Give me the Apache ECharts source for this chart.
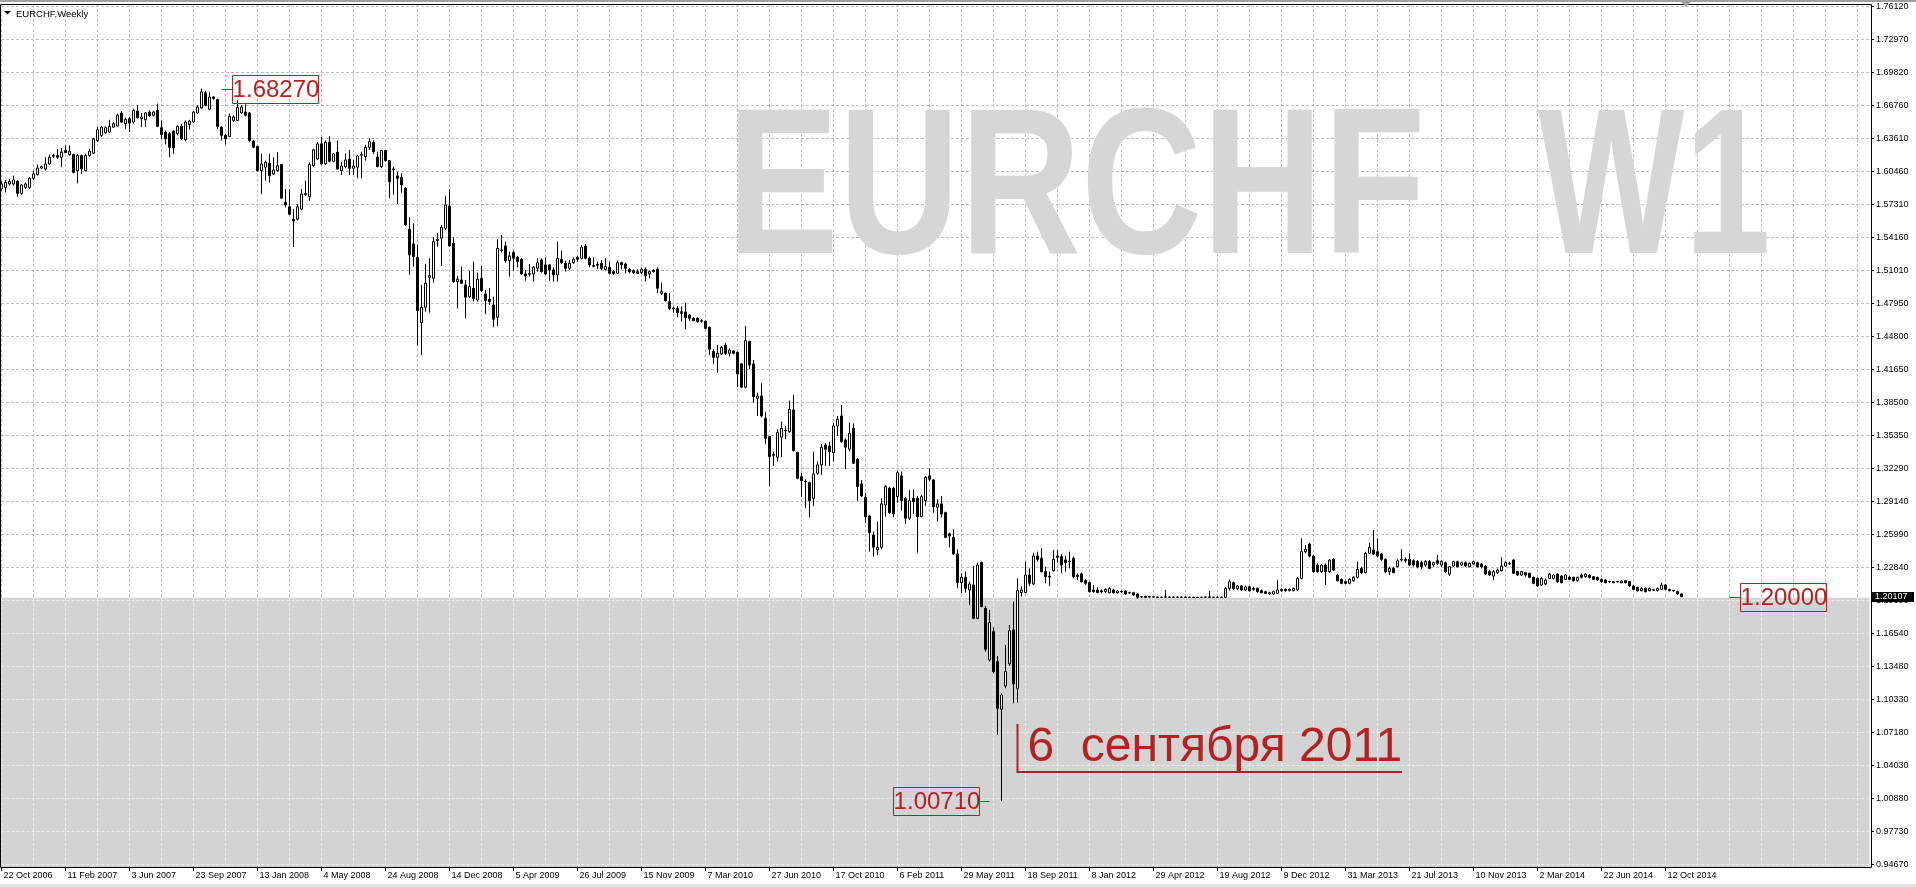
<!DOCTYPE html>
<html>
<head>
<meta charset="utf-8">
<title>EURCHF,Weekly</title>
<script src="https://cdn.jsdelivr.net/npm/echarts@6/dist/echarts.min.js"></script>
<style>
  html, body { margin: 0; padding: 0; background: #fff; }
  #chart { width: 1916px; height: 887px; }
</style>
</head>
<body>
<div id="chart"></div>
<script>
// weekly candles, each row is [open, close, low, high]
const weeks2006to2008 = [
  [1.5881,1.5929,1.5865,1.5954],[1.5897,1.5944,1.5849,1.5967],[1.5929,1.5954,1.5913,1.5976],[1.5929,1.5967,1.5913,1.6008],
  [1.5954,1.5840,1.5808,1.5967],[1.5840,1.5919,1.5827,1.5929],[1.5897,1.5929,1.5881,1.5944],[1.5897,1.5983,1.5881,1.5992],
  [1.5983,1.6024,1.5967,1.6056],[1.6018,1.6081,1.6008,1.6113],[1.6081,1.6094,1.6072,1.6103],[1.6072,1.6119,1.6056,1.6183],
  [1.6119,1.6183,1.6113,1.6208],[1.6192,1.6199,1.6177,1.6215],[1.6199,1.6183,1.6167,1.6262],[1.6183,1.6231,1.6088,1.6272],
  [1.6247,1.6228,1.6221,1.6294],[1.6208,1.6240,1.6199,1.6294],[1.6208,1.6040,1.6030,1.6215],[1.6056,1.6199,1.5935,1.6215],
  [1.6199,1.6072,1.6024,1.6208],[1.6056,1.6199,1.6049,1.6215],[1.6199,1.6240,1.6189,1.6262],[1.6221,1.6358,1.6215,1.6368],
  [1.6342,1.6444,1.6326,1.6469],[1.6390,1.6469,1.6374,1.6476],[1.6415,1.6463,1.6406,1.6476],[1.6422,1.6476,1.6412,1.6539],
  [1.6469,1.6501,1.6463,1.6517],[1.6479,1.6581,1.6476,1.6597],[1.6603,1.6517,1.6507,1.6622],[1.6501,1.6542,1.6453,1.6558],
  [1.6549,1.6507,1.6422,1.6565],[1.6517,1.6628,1.6501,1.6644],[1.6622,1.6558,1.6549,1.6676],[1.6549,1.6565,1.6469,1.6603],
  [1.6539,1.6603,1.6469,1.6612],[1.6612,1.6574,1.6565,1.6628],[1.6581,1.6612,1.6571,1.6622],[1.6628,1.6476,1.6469,1.6692],
  [1.6463,1.6399,1.6358,1.6533],[1.6422,1.6358,1.6304,1.6437],[1.6406,1.6278,1.6183,1.6422],[1.6431,1.6272,1.6215,1.6437],
  [1.6406,1.6476,1.6390,1.6485],[1.6476,1.6358,1.6348,1.6501],[1.6348,1.6517,1.6333,1.6533],[1.6495,1.6526,1.6444,1.6539],
  [1.6517,1.6612,1.6507,1.6622],[1.6603,1.6660,1.6597,1.6676],[1.6650,1.6803,1.6644,1.6835],[1.6794,1.6676,1.6666,1.6813],
  [1.6638,1.6755,1.6635,1.6803],[1.6755,1.6740,1.6730,1.6762],[1.6730,1.6476,1.6453,1.6740],[1.6469,1.6390,1.6342,1.6476],
  [1.6390,1.6358,1.6304,1.6406],[1.6380,1.6571,1.6374,1.6597],[1.6533,1.6565,1.6517,1.6581],[1.6533,1.6654,1.6526,1.6724],
  [1.6603,1.6660,1.6597,1.6676],[1.6612,1.6581,1.6571,1.6685],[1.6603,1.6342,1.6326,1.6612],[1.6336,1.6278,1.6272,1.6348],
  [1.6285,1.6056,1.6049,1.6294],[1.6056,1.6119,1.5833,1.6215],[1.6088,1.6135,1.5960,1.6151],[1.6126,1.6008,1.5944,1.6215],
  [1.6024,1.6062,1.6018,1.6183],[1.6056,1.6103,1.6049,1.6231],[1.6113,1.5795,1.5789,1.6119],[1.5754,1.5731,1.5706,1.5881],
  [1.5712,1.5642,1.5636,1.5881],[1.5595,1.5579,1.5331,1.5690],[1.5595,1.5712,1.5585,1.5738],[1.5690,1.5833,1.5681,1.5881],
  [1.5827,1.5840,1.5817,1.5960],[1.5808,1.6113,1.5770,1.6135],[1.6103,1.6253,1.6094,1.6262],[1.6167,1.6310,1.6158,1.6326],
  [1.6310,1.6119,1.6113,1.6374],[1.6119,1.6326,1.6113,1.6342],[1.6326,1.6145,1.6135,1.6383],[1.6145,1.6215,1.6135,1.6221],
  [1.6231,1.6072,1.6064,1.6342]
];
const weeks2008to2010 = [
  [1.6056,1.6100,1.6015,1.6141],[1.6094,1.6157,1.6078,1.6220],[1.6164,1.6078,1.6015,1.6252],[1.6078,1.6100,1.6015,1.6157],
  [1.6088,1.6195,1.5983,1.6205],[1.6202,1.6208,1.5983,1.6236],[1.6189,1.6277,1.6151,1.6300],[1.6277,1.6331,1.6252,1.6363],
  [1.6322,1.6236,1.6214,1.6341],[1.6183,1.6094,1.6088,1.6236],[1.6094,1.6246,1.6078,1.6252],[1.6246,1.6151,1.6141,1.6252],
  [1.6151,1.5952,1.5793,1.6157],[1.6072,1.6065,1.5825,1.6094],[1.6005,1.5983,1.5740,1.6047],[1.5993,1.5920,1.5847,1.6031],
  [1.5888,1.5540,1.5531,1.5898],[1.5499,1.5255,1.5066,1.5613],[1.5360,1.5240,1.5145,1.5556],[1.5233,1.4727,1.4401,1.5350],
  [1.4613,1.4759,1.4306,1.4971],[1.4759,1.4987,1.4717,1.5170],[1.5044,1.5059,1.4708,1.5224],[1.5034,1.5382,1.4993,1.5423],
  [1.5392,1.5404,1.5335,1.5461],[1.5414,1.5518,1.5151,1.5540],[1.5508,1.5730,1.5492,1.5816],[1.5720,1.5341,1.5335,1.5879],
  [1.5366,1.5002,1.4993,1.5423],[1.5002,1.5025,1.4749,1.5056],[1.5018,1.4987,1.4980,1.5145],[1.4971,1.4854,1.4654,1.5018],
  [1.4860,1.4955,1.4844,1.5107],[1.4939,1.4844,1.4813,1.5192],[1.4828,1.5025,1.4813,1.5088],[1.5034,1.4917,1.4907,1.5151],
  [1.4885,1.4822,1.4695,1.4923],[1.4835,1.4813,1.4781,1.4939],[1.4781,1.4645,1.4569,1.4860],[1.4664,1.5319,1.4581,1.5404],
  [1.5303,1.5297,1.5278,1.5445],[1.5341,1.5201,1.5182,1.5382],[1.5201,1.5246,1.5050,1.5287],[1.5277,1.5224,1.5107,1.5296],
  [1.5233,1.5192,1.5138,1.5246],[1.5214,1.5075,1.5066,1.5224],[1.5075,1.5056,1.5012,1.5113],[1.5072,1.5078,1.5050,1.5170],
  [1.5075,1.5138,1.5002,1.5151],[1.5129,1.5182,1.5097,1.5224],[1.5208,1.5097,1.5088,1.5224],[1.5161,1.5075,1.5066,1.5233],
  [1.5161,1.5113,1.5012,1.5170],[1.5113,1.5066,1.5002,1.5138],[1.5066,1.5224,1.5002,1.5382],[1.5214,1.5182,1.5170,1.5296],
  [1.5176,1.5129,1.5097,1.5202],[1.5129,1.5176,1.5113,1.5208],[1.5182,1.5214,1.5170,1.5233],[1.5233,1.5214,1.5192,1.5246],
  [1.5224,1.5328,1.5214,1.5350],[1.5341,1.5224,1.5214,1.5360],[1.5224,1.5161,1.5138,1.5240],[1.5154,1.5148,1.5138,1.5233],
  [1.5164,1.5158,1.5119,1.5192],[1.5176,1.5129,1.5113,1.5208],[1.5119,1.5145,1.5107,1.5224],[1.5138,1.5081,1.5075,1.5192],
  [1.5097,1.5081,1.5066,1.5113],[1.5081,1.5182,1.5075,1.5202],[1.5182,1.5161,1.5119,1.5192],[1.5170,1.5129,1.5081,1.5182],
  [1.5119,1.5097,1.5081,1.5129],[1.5107,1.5088,1.5075,1.5119],[1.5097,1.5081,1.5075,1.5119],[1.5088,1.5119,1.5075,1.5138],
  [1.5119,1.5056,1.5002,1.5138],[1.5075,1.5097,1.5034,1.5107],[1.5107,1.5097,1.5088,1.5119],[1.5119,1.4939,1.4892,1.5138],
  [1.4892,1.4907,1.4876,1.4993],[1.4892,1.4822,1.4813,1.4898],[1.4813,1.4749,1.4733,1.4892],[1.4752,1.4746,1.4708,1.4765],
  [1.4749,1.4708,1.4664,1.4771],[1.4717,1.4702,1.4623,1.4765]
];
const weeks2010to2011 = [
  [1.4714,1.4660,1.4550,1.4803],[1.4686,1.4654,1.4632,1.4695],[1.4654,1.4632,1.4626,1.4664],[1.4654,1.4622,1.4613,1.4664],
  [1.4632,1.4626,1.4613,1.4645],[1.4626,1.4559,1.4550,1.4632],[1.4569,1.4360,1.4306,1.4575],[1.4338,1.4284,1.4221,1.4360],
  [1.4284,1.4322,1.4138,1.4401],[1.4316,1.4379,1.4306,1.4391],[1.4401,1.4322,1.4306,1.4417],[1.4322,1.4353,1.4290,1.4369],
  [1.4344,1.4322,1.4312,1.4353],[1.4331,1.4126,1.4000,1.4338],[1.4221,1.4000,1.3990,1.4227],[1.4000,1.4442,1.3990,1.4581],
  [1.4433,1.4211,1.4170,1.4442],[1.4221,1.3911,1.3854,1.4259],[1.3895,1.3917,1.3727,1.3948],[1.3917,1.3727,1.3714,1.4037],
  [1.3705,1.3515,1.3461,1.3768],[1.3531,1.3341,1.3063,1.3537],[1.3360,1.3354,1.3252,1.3388],[1.3335,1.3569,1.3294,1.3600],
  [1.3525,1.3610,1.3335,1.3673],[1.3585,1.3591,1.3506,1.3632],[1.3578,1.3790,1.3569,1.3873],[1.3784,1.3398,1.3388,1.3926],
  [1.3379,1.3135,1.3126,1.3388],[1.3151,1.3113,1.2961,1.3189],[1.3107,1.3101,1.2851,1.3126],[1.3094,1.2923,1.2765,1.3104],
  [1.2945,1.3176,1.2873,1.3388],[1.3183,1.3262,1.3167,1.3294],[1.3262,1.3430,1.3167,1.3461],[1.3452,1.3411,1.3252,1.3468],
  [1.3442,1.3388,1.3252,1.3483],[1.3379,1.3632,1.3294,1.3664],[1.3632,1.3695,1.3537,1.3727],[1.3727,1.3483,1.3474,1.3831],
  [1.3499,1.3430,1.3221,1.3515],[1.3411,1.3562,1.3388,1.3664],[1.3610,1.3278,1.3271,1.3657],[1.3316,1.3056,1.2923,1.3325],
  [1.3082,1.2968,1.2955,1.3120],[1.2955,1.2771,1.2708,1.2999],[1.2778,1.2620,1.2439,1.2784],[1.2597,1.2480,1.2392,1.2629],
  [1.2455,1.2480,1.2408,1.2724],[1.2480,1.2892,1.2461,1.2945],[1.2882,1.3056,1.2771,1.3072],[1.3040,1.2809,1.2797,1.3056],
  [1.3040,1.2797,1.2765,1.3056],[1.2961,1.3189,1.2904,1.3208],[1.3158,1.2923,1.2828,1.3199],[1.2945,1.2756,1.2702,1.2961],
  [1.2756,1.2923,1.2740,1.3025],[1.2945,1.2914,1.2797,1.3031],[1.2945,1.2771,1.2430,1.2968],[1.2771,1.2961,1.2765,1.2977],
  [1.2923,1.3145,1.2873,1.3158],[1.3158,1.3126,1.3113,1.3230],[1.3120,1.2866,1.2809,1.3126],[1.2860,1.2892,1.2724,1.2936],
  [1.2892,1.2797,1.2765,1.2968],[1.2809,1.2575,1.2566,1.2819],[1.2607,1.2588,1.2480,1.2620],[1.2575,1.2417,1.2408,1.2651]
];
const weeks2011 = [
  [1.2417,1.2145,1.2091,1.2461],[1.2145,1.2195,1.2044,1.2233],[1.2195,1.2091,1.2050,1.2249],[1.2075,1.2132,1.1933,1.2154],
  [1.2123,1.1806,1.1797,1.2303],[1.1806,1.2312,1.1797,1.2335],[1.2335,1.1917,1.1911,1.2344],[1.1901,1.1512,1.1490,1.1923],
  [1.1411,1.1765,1.1395,1.1885],[1.1680,1.1300,1.1284,1.1721],[1.1395,1.0952,1.0699,1.1449],[1.0942,1.1078,1.0071,1.1094],
  [1.1164,1.1300,1.1142,1.1553],[1.1373,1.1689,1.1354,1.1743],[1.1696,1.1183,1.0999,1.1964],[1.1142,1.2069,1.1006,1.2186],
  [1.2050,1.2075,1.2012,1.2107],[1.2050,1.2217,1.2044,1.2344],[1.2217,1.2138,1.2113,1.2281],[1.2132,1.2398,1.2123,1.2429],
  [1.2398,1.2366,1.2344,1.2439],[1.2376,1.2249,1.2240,1.2471],[1.2249,1.2202,1.2138,1.2297],[1.2205,1.2199,1.2113,1.2249],
  [1.2259,1.2366,1.2249,1.2455],[1.2398,1.2385,1.2335,1.2455],[1.2392,1.2312,1.2233,1.2417],[1.2360,1.2335,1.2249,1.2398],
  [1.2350,1.2344,1.2281,1.2439],[1.2376,1.2202,1.2186,1.2392],[1.2217,1.2202,1.2170,1.2233],[1.2227,1.2154,1.2145,1.2240],
  [1.2164,1.2138,1.2123,1.2176],[1.2145,1.2059,1.2050,1.2154],[1.2075,1.2059,1.2050,1.2123],[1.2075,1.2050,1.2044,1.2101]
];
const weeks2012to2014 = [
  [1.2068,1.2056,1.2043,1.2081],[1.2059,1.2081,1.2049,1.2090],[1.2049,1.2090,1.2043,1.2100],[1.2075,1.2049,1.2040,1.2087],
  [1.2049,1.2065,1.2040,1.2075],[1.2062,1.2059,1.2046,1.2071],[1.2065,1.2037,1.2030,1.2075],[1.2049,1.2046,1.2040,1.2059],
  [1.2049,1.2027,1.2021,1.2056],[1.2037,1.2005,1.1992,1.2043],[1.2011,1.2008,1.2002,1.2018],[1.2014,1.2005,1.2002,1.2021],
  [1.2011,1.2008,1.2002,1.2017],[1.2010,1.2008,1.2003,1.2015],[1.2008,1.2005,1.2001,1.2013],[1.2006,1.2005,1.2001,1.2012],
  [1.2007,1.2009,1.2002,1.2075],[1.2008,1.2005,1.2002,1.2012],[1.2006,1.2008,1.2001,1.2014],[1.2008,1.2005,1.2002,1.2012],
  [1.2006,1.2008,1.2002,1.2013],[1.2008,1.2005,1.2001,1.2011],[1.2005,1.2006,1.2001,1.2010],[1.2006,1.2003,1.2000,1.2010],
  [1.2004,1.2005,1.2001,1.2009],[1.2005,1.2006,1.2001,1.2010],[1.2006,1.2008,1.2002,1.2013],[1.2008,1.2006,1.2002,1.2065],
  [1.2006,1.2005,1.2001,1.2011],[1.2005,1.2006,1.2001,1.2012],[1.2006,1.2005,1.2002,1.2011],[1.2005,1.2090,1.2002,1.2100],
  [1.2090,1.2154,1.2068,1.2176],[1.2144,1.2090,1.2075,1.2154],[1.2090,1.2113,1.2075,1.2122],[1.2113,1.2075,1.2065,1.2122],
  [1.2075,1.2106,1.2065,1.2116],[1.2106,1.2068,1.2059,1.2116],[1.2090,1.2081,1.2068,1.2106],[1.2090,1.2059,1.2049,1.2100],
  [1.2068,1.2049,1.2043,1.2081],[1.2059,1.2043,1.2037,1.2068],[1.2049,1.2037,1.2027,1.2059],[1.2037,1.2059,1.2027,1.2068],
  [1.2043,1.2075,1.2037,1.2170],[1.2068,1.2081,1.2059,1.2090],[1.2081,1.2068,1.2059,1.2090],[1.2068,1.2081,1.2062,1.2090],
  [1.2068,1.2090,1.2062,1.2097],[1.2075,1.2185,1.2068,1.2195],[1.2185,1.2438,1.2176,1.2565],[1.2438,1.2461,1.2423,1.2502],
  [1.2511,1.2397,1.2385,1.2524],[1.2397,1.2249,1.2239,1.2407],[1.2312,1.2249,1.2239,1.2328],[1.2249,1.2312,1.2239,1.2321],
  [1.2312,1.2249,1.2122,1.2328],[1.2249,1.2359,1.2239,1.2366],[1.2366,1.2264,1.2255,1.2375],[1.2217,1.2163,1.2154,1.2226],
  [1.2176,1.2138,1.2129,1.2185],[1.2154,1.2138,1.2129,1.2163],[1.2138,1.2176,1.2129,1.2185],[1.2163,1.2195,1.2154,1.2207],
  [1.2195,1.2271,1.2185,1.2344],[1.2280,1.2239,1.2226,1.2296],[1.2239,1.2423,1.2233,1.2438],[1.2423,1.2480,1.2416,1.2524],
  [1.2454,1.2416,1.2407,1.2644],[1.2438,1.2397,1.2385,1.2565],[1.2416,1.2366,1.2353,1.2429],[1.2366,1.2249,1.2233,1.2375],
  [1.2249,1.2280,1.2217,1.2296],[1.2280,1.2239,1.2233,1.2296],[1.2296,1.2353,1.2290,1.2366],[1.2359,1.2366,1.2344,1.2461],
  [1.2353,1.2366,1.2334,1.2385],[1.2366,1.2312,1.2302,1.2423],[1.2353,1.2312,1.2296,1.2366],[1.2344,1.2296,1.2280,1.2359],
  [1.2334,1.2296,1.2271,1.2353],[1.2312,1.2344,1.2296,1.2359],[1.2344,1.2280,1.2271,1.2359],[1.2312,1.2334,1.2296,1.2344],
  [1.2353,1.2328,1.2312,1.2407],[1.2312,1.2344,1.2296,1.2359],[1.2334,1.2249,1.2239,1.2344],[1.2226,1.2296,1.2207,1.2302],
  [1.2302,1.2344,1.2296,1.2353],[1.2344,1.2296,1.2290,1.2353],[1.2312,1.2334,1.2302,1.2344],[1.2334,1.2302,1.2296,1.2344],
  [1.2296,1.2328,1.2290,1.2334],[1.2321,1.2344,1.2312,1.2353],[1.2334,1.2296,1.2290,1.2344],[1.2321,1.2296,1.2280,1.2328],
  [1.2302,1.2226,1.2217,1.2312],[1.2249,1.2217,1.2207,1.2264],[1.2207,1.2249,1.2170,1.2264],[1.2239,1.2264,1.2226,1.2280],
  [1.2258,1.2302,1.2249,1.2385],[1.2302,1.2334,1.2296,1.2344],[1.2321,1.2328,1.2312,1.2344],[1.2359,1.2233,1.2226,1.2366],
  [1.2249,1.2217,1.2207,1.2258],[1.2217,1.2249,1.2207,1.2258],[1.2239,1.2217,1.2201,1.2249],[1.2233,1.2195,1.2185,1.2239],
  [1.2195,1.2138,1.2129,1.2201],[1.2185,1.2113,1.2106,1.2195],[1.2122,1.2185,1.2113,1.2195],[1.2132,1.2170,1.2122,1.2185],
  [1.2185,1.2226,1.2176,1.2239],[1.2185,1.2217,1.2176,1.2226],[1.2226,1.2154,1.2144,1.2233],[1.2207,1.2144,1.2138,1.2217],
  [1.2176,1.2217,1.2170,1.2226],[1.2195,1.2176,1.2170,1.2207],[1.2195,1.2163,1.2154,1.2201],[1.2163,1.2195,1.2154,1.2201],
  [1.2217,1.2195,1.2185,1.2233],[1.2201,1.2226,1.2192,1.2233],[1.2217,1.2195,1.2185,1.2226],[1.2201,1.2176,1.2170,1.2207],
  [1.2195,1.2170,1.2160,1.2201],[1.2176,1.2154,1.2144,1.2185],[1.2170,1.2144,1.2138,1.2176],[1.2155,1.2152,1.2144,1.2163],
  [1.2154,1.2144,1.2138,1.2160],[1.2152,1.2155,1.2144,1.2163],[1.2144,1.2160,1.2138,1.2166],[1.2163,1.2144,1.2138,1.2170],
  [1.2154,1.2113,1.2106,1.2160],[1.2113,1.2081,1.2075,1.2122],[1.2100,1.2068,1.2059,1.2106],[1.2068,1.2090,1.2062,1.2100],
  [1.2090,1.2059,1.2052,1.2100],[1.2068,1.2090,1.2062,1.2097],[1.2076,1.2073,1.2065,1.2087],[1.2068,1.2090,1.2062,1.2097],
  [1.2081,1.2122,1.2075,1.2144],[1.2122,1.2081,1.2075,1.2129],[1.2081,1.2068,1.2062,1.2087],[1.2070,1.2067,1.2059,1.2075],
  [1.2059,1.2037,1.2030,1.2068],[1.2037,1.20107,1.2008,1.2043]
];
const candles = [].concat(weeks2006to2008, weeks2008to2010, weeks2010to2011, weeks2011, weeks2012to2014);

// time labels (every 16th week) and price labels (top to bottom)
const dateTicks = ['22 Oct 2006','11 Feb 2007','3 Jun 2007','23 Sep 2007','13 Jan 2008','4 May 2008','24 Aug 2008',
  '14 Dec 2008','5 Apr 2009','26 Jul 2009','15 Nov 2009','7 Mar 2010','27 Jun 2010','17 Oct 2010','6 Feb 2011',
  '29 May 2011','18 Sep 2011','8 Jan 2012','29 Apr 2012','19 Aug 2012','9 Dec 2012','31 Mar 2013','21 Jul 2013',
  '10 Nov 2013','2 Mar 2014','22 Jun 2014','12 Oct 2014'];
const priceTicks = ['1.76120','1.72970','1.69820','1.66760','1.63610','1.60460','1.57310','1.54160','1.51010',
  '1.47950','1.44800','1.41650','1.38500','1.35350','1.32290','1.29140','1.25990','1.22840','1.19690','1.16540',
  '1.13480','1.10330','1.07180','1.04030','1.00880','0.97730','0.94670'];

// marked levels
const floorPrice = 1.2;
const peakPrice = 1.6827;
const lowPrice = 1.0071;
const lastPrice = candles[candles.length - 1][1];

const slotCount = 468;       // weeks on the time axis, incl. the empty right margin
const priceMin = 0.94452;
const priceMax = 1.76376;
const tickLow = 0.9467, tickHigh = 1.7612, tickSteps = priceTicks.length - 1;

const weeks = [];
const start = Date.UTC(2006, 9, 22);
for (let i = 0; i < slotCount; i++) {
  weeks.push(new Date(start + i * 7 * 864e5).toISOString().slice(0, 10));
}

const font = '"Liberation Sans", Arial, sans-serif';
const red = '#b22222';
const gridColor = '#c0c0c0';
const shade = '#d3d3d3';

const chart = echarts.init(document.getElementById('chart'), null, { renderer: 'canvas' });

const gridLeft = 1.5, gridRight = 1916 - (1.5 + 4 * (slotCount - 1)), plotTop = 4, plotBottom = 20;
const tickTopY = 6.7, tickBottomY = 864.7;
const floorY = plotTop + (priceMax - floorPrice) / (priceMax - priceMin) * (887 - plotTop - plotBottom);
const floorSteps = (floorPrice - tickLow) / ((tickHigh - tickLow) / tickSteps);

const hiddenCat = (gi) => ({ type: 'category', gridIndex: gi, data: weeks, boundaryGap: false, show: false });

chart.setOption({
  animation: false,
  backgroundColor: '#ffffff',
  grid: [
    { left: gridLeft, right: gridRight, top: plotTop, bottom: plotBottom, containLabel: false },
    { left: 1, right: 1916 - 1871, top: tickTopY, bottom: 887 - tickBottomY, containLabel: false },
    { left: gridLeft, right: gridRight, top: floorY, bottom: 887 - tickBottomY, containLabel: false }
  ],
  xAxis: [
    {
      type: 'category', gridIndex: 0, data: weeks, boundaryGap: false,
      axisLine: { show: false },
      axisTick: { show: true, length: 4, interval: (i) => i % 16 === 0 && i / 16 < dateTicks.length, lineStyle: { color: '#000' } },
      axisLabel: {
        show: true, interval: (i) => i % 16 === 0 && i / 16 < dateTicks.length,
        formatter: (v, i) => dateTicks[i / 16] || '',
        align: 'left', margin: 4, padding: [0, 0, 0, 2],
        fontSize: 9, fontFamily: font, color: '#000'
      },
      splitLine: { show: true, interval: 7, lineStyle: { color: gridColor, width: 1, type: [3, 2] } }
    },
    hiddenCat(1),
    Object.assign(hiddenCat(2), {
      show: true, z: 1.5,
      axisLine: { show: false }, axisTick: { show: false }, axisLabel: { show: false },
      splitLine: { show: true, interval: 7, lineStyle: { color: '#ededed', width: 1, type: [3, 2] } }
    })
  ],
  yAxis: [
    { type: 'value', gridIndex: 0, min: priceMin, max: priceMax, show: false, splitLine: { show: false } },
    {
      type: 'value', gridIndex: 1, position: 'right', min: 0, max: tickSteps, interval: 1,
      axisLine: { show: false },
      axisTick: { show: true, length: 3, lineStyle: { color: '#000' } },
      axisLabel: { formatter: (v) => priceTicks[tickSteps - v], margin: 5, fontSize: 9, fontFamily: font, color: '#000' },
      splitLine: { show: true, lineStyle: { color: gridColor, width: 1, type: [3, 2] } }
    },
    {
      type: 'value', gridIndex: 2, min: 0, max: floorSteps, interval: 1, z: 1.5,
      axisLine: { show: false }, axisTick: { show: false }, axisLabel: { show: false },
      splitLine: { show: true, showMaxLine: false, lineStyle: { color: '#ededed', width: 1, type: [3, 2] } }
    }
  ],
  series: [{
    type: 'candlestick', xAxisIndex: 0, yAxisIndex: 0,
    data: candles,
    barWidth: 2,
    itemStyle: { color: '#ffffff', color0: '#000000', borderColor: '#000000', borderColor0: '#000000', borderWidth: 1 },
    emphasis: { disabled: true },
    markArea: {
      silent: true,
      itemStyle: { color: shade },
      data: [[{ yAxis: floorPrice }, { yAxis: priceMin }]]
    }
  }]
});

// annotations tied to the data scale
const px = (i, p) => chart.convertToPixel({ gridIndex: 0 }, [i, p]);
const crisp = (v) => Math.round(v - 0.5) + 0.5;

function priceBox(anchorIdx, price, side) {
  const a = px(anchorIdx, price);
  const ax = a[0], ay = crisp(a[1]);
  const lead = 10.5, w = 86, h = 28;
  const bx = side > 0 ? ax + lead : ax - lead - w;
  return {
    type: 'group', z: 20, children: [
      { type: 'line', z: 20, shape: { x1: ax, y1: ay, x2: side > 0 ? ax + lead : ax - lead, y2: ay }, style: { stroke: red, lineWidth: 1 } },
      { type: 'rect', z: 20, shape: { x: crisp(bx), y: crisp(ay - h / 2), width: w, height: h }, style: { fill: null, stroke: red, lineWidth: 1 } },
      { type: 'text', z: 20, style: { text: price.toFixed(5), x: bx + w / 2 + 1, y: ay + 1, align: 'center', verticalAlign: 'middle', font: '24px ' + font, fill: red } }
    ]
  };
}

const bTop = px(254, 1.0803), bBot = px(254, 1.0350), bEnd = px(350, 1.0350);
const bx = crisp(bTop[0]), byTop = Math.round(bTop[1]), byBot = Math.round(bBot[1]);
const last = px(0, lastPrice);

chart.setOption({
  graphic: [
    // watermark, drawn over the grid but under the candles
    { type: 'text', z: 1, silent: true, style: { text: 'EURCHF', x: 727, y: 196, verticalAlign: 'middle', font: 'bold 207px ' + font, fill: '#d6d6d6' }, scaleX: 0.81, originX: 727 },
    { type: 'text', z: 1, silent: true, style: { text: 'W1', x: 1538, y: 196, verticalAlign: 'middle', font: 'bold 207px ' + font, fill: '#d6d6d6' }, scaleX: 0.75, originX: 1538 },
    // title
    { type: 'polygon', z: 20, shape: { points: [[4, 11], [11, 11], [7.5, 14.5]] }, style: { fill: '#000' } },
    { type: 'text', z: 20, style: { text: 'EURCHF,Weekly', x: 16, y: 14, verticalAlign: 'middle', font: '9.5px ' + font, fill: '#000' } },
    // frame
    { type: 'rect', z: 20, silent: true, shape: { x: 0.5, y: 4.5, width: 1871, height: 863 }, style: { fill: null, stroke: '#000', lineWidth: 1 } },
    { type: 'rect', z: 20, silent: true, shape: { x: 0, y: 0, width: 1916, height: 2 }, style: { fill: '#a0a0a0' } },
    { type: 'rect', z: 20, silent: true, shape: { x: 0, y: 884, width: 1916, height: 3 }, style: { fill: '#e4e4e4' } },
    // chart shift marker
    { type: 'polygon', z: 20, shape: { points: [[1681, 2], [1691, 2], [1686, 7]] }, style: { fill: '#a0a0a0' } },
    // price labels
    priceBox(55, peakPrice, 1),
    priceBox(247, lowPrice, -1),
    priceBox(432, floorPrice, 1),
    // 6 September 2011 bracket and caption
    { type: 'polyline', z: 20, shape: { points: [[bx, byTop], [bx, byBot], [Math.round(bEnd[0]), byBot]] }, style: { stroke: red, lineWidth: 2, fill: null } },
    { type: 'text', z: 20, style: { text: '6  сентября 2011', x: bx + 10, y: byBot - 24.5, verticalAlign: 'middle', font: '48px ' + font, fill: red } },
    // current price tag
    { type: 'rect', z: 30, shape: { x: 1872, y: Math.round(last[1]) - 5, width: 42, height: 10 }, style: { fill: '#000' } },
    { type: 'text', z: 31, style: { text: lastPrice.toFixed(5), x: 1875, y: Math.round(last[1]), verticalAlign: 'middle', font: '9px ' + font, fill: '#fff' } }
  ]
});
</script>
</body>
</html>
